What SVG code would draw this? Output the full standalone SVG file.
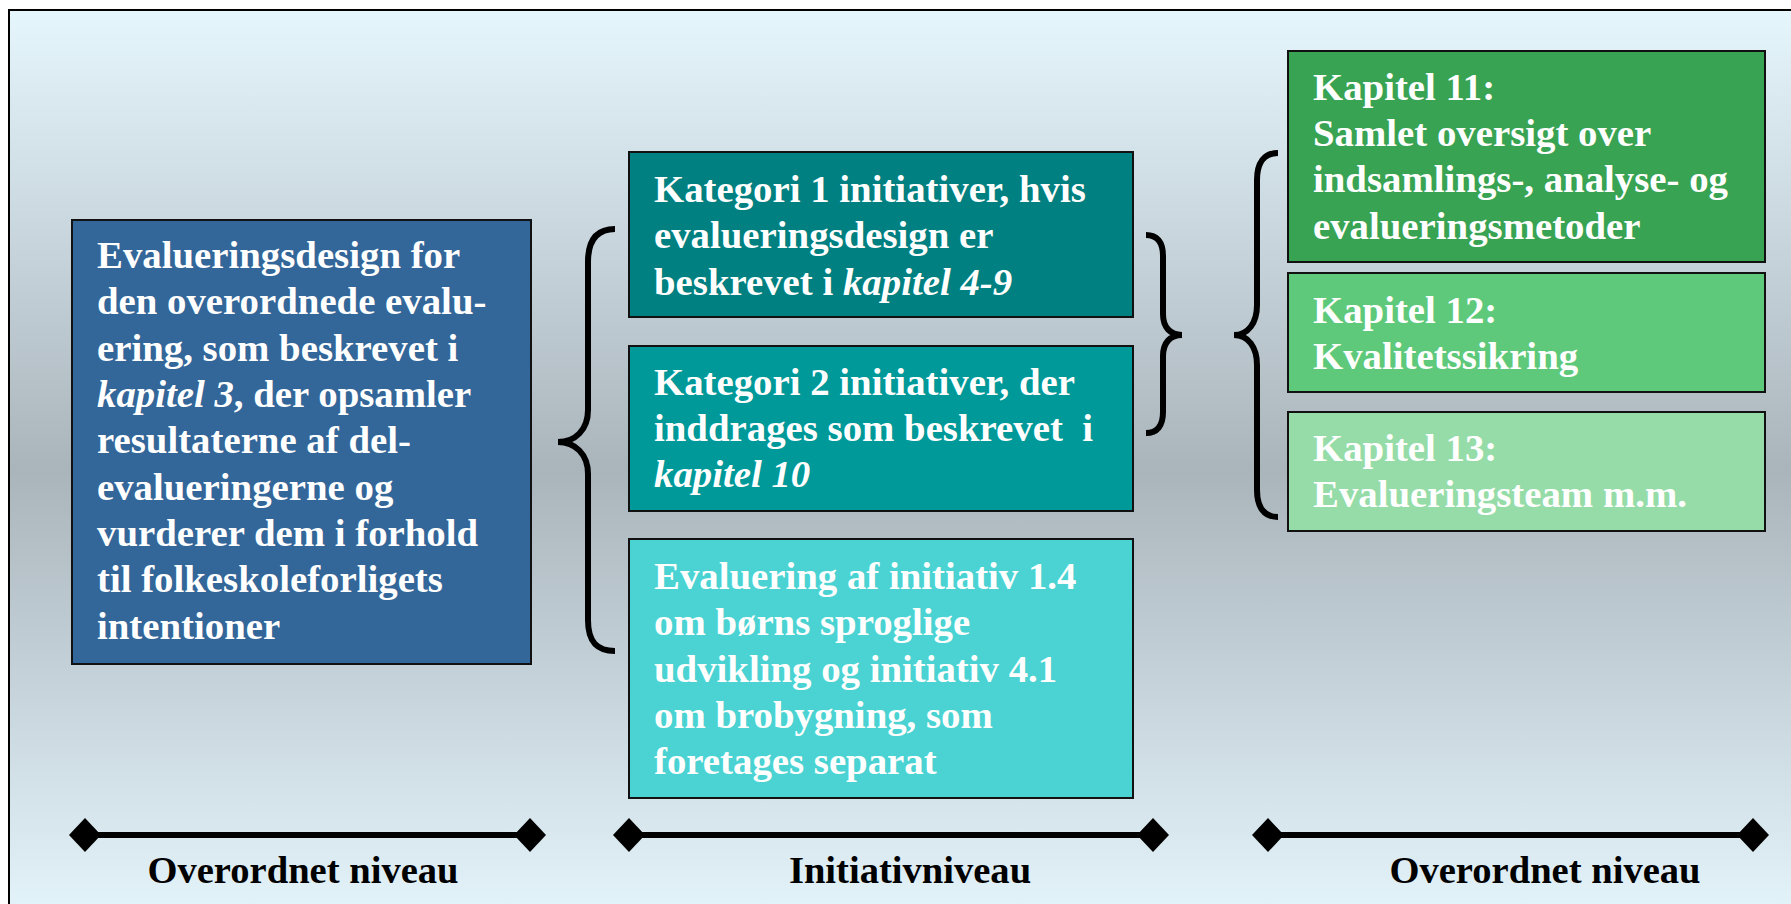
<svg xmlns="http://www.w3.org/2000/svg" width="1791" height="904" viewBox="0 0 1791 904">
<defs>
<linearGradient id="bg" x1="0" y1="0" x2="0" y2="1">
<stop offset="0" stop-color="#e6f6fd"/>
<stop offset="0.5" stop-color="#aab4bb"/>
<stop offset="1" stop-color="#e6f6fd"/>
</linearGradient>
</defs>
<style>
.box{stroke:#111;stroke-width:2}
.t{font-family:"Liberation Serif","Times New Roman",serif;font-weight:bold;font-size:38.8px;fill:#fff}
.lbl{font-family:"Liberation Serif","Times New Roman",serif;font-weight:bold;font-size:38.6px;fill:#000;text-anchor:middle}
.it{font-style:italic}
.brace{fill:none;stroke:#000;stroke-width:6}
.bar{stroke:#000;stroke-width:6}
.dia{fill:#000}
</style>
<rect x="0" y="0" width="1791" height="904" fill="#ffffff"/>
<rect x="9" y="10" width="1800" height="920" fill="url(#bg)" stroke="#000" stroke-width="2"/>

<g id="node-overall">
<rect class="box" x="72" y="220" width="459" height="444" fill="#336699"/>
<text class="t" x="97" y="268">Evalueringsdesign for</text>
<text class="t" x="97" y="314">den overordnede evalu-</text>
<text class="t" x="97" y="361">ering, som beskrevet i</text>
<text class="t" x="97" y="407"><tspan class="it">kapitel 3</tspan>, der opsamler</text>
<text class="t" x="97" y="453">resultaterne af del-</text>
<text class="t" x="97" y="500">evalueringerne og</text>
<text class="t" x="97" y="546">vurderer dem i forhold</text>
<text class="t" x="97" y="592">til folkeskoleforligets</text>
<text class="t" x="97" y="639">intentioner</text>
</g>

<g id="node-kat1">
<rect class="box" x="629" y="152" width="504" height="165" fill="#008080"/>
<text class="t" x="654" y="202">Kategori 1 initiativer, hvis</text>
<text class="t" x="654" y="248">evalueringsdesign er</text>
<text class="t" x="654" y="295">beskrevet i <tspan class="it">kapitel 4-9</tspan></text>
</g>

<g id="node-kat2">
<rect class="box" x="629" y="346" width="504" height="165" fill="#009999"/>
<text class="t" x="654" y="395">Kategori 2 initiativer, der</text>
<text class="t" x="654" y="441" xml:space="preserve">inddrages som beskrevet  i</text>
<text class="t it" x="654" y="487">kapitel 10</text>
</g>

<g id="node-separat">
<rect class="box" x="629" y="539" width="504" height="259" fill="#4ad3d2"/>
<text class="t" x="654" y="589">Evaluering af initiativ 1.4</text>
<text class="t" x="654" y="635">om børns sproglige</text>
<text class="t" x="654" y="682">udvikling og initiativ 4.1</text>
<text class="t" x="654" y="728">om brobygning, som</text>
<text class="t" x="654" y="774">foretages separat</text>
</g>

<g id="node-kap11">
<rect class="box" x="1288" y="51" width="477" height="211" fill="#38a352"/>
<text class="t" x="1313" y="100">Kapitel 11:</text>
<text class="t" x="1313" y="146">Samlet oversigt over</text>
<text class="t" x="1313" y="192">indsamlings-, analyse- og</text>
<text class="t" x="1313" y="239">evalueringsmetoder</text>
</g>

<g id="node-kap12">
<rect class="box" x="1288" y="273" width="477" height="119" fill="#5ec97a"/>
<text class="t" x="1313" y="323">Kapitel 12:</text>
<text class="t" x="1313" y="369">Kvalitetssikring</text>
</g>

<g id="node-kap13">
<rect class="box" x="1288" y="412" width="477" height="119" fill="#96dca8"/>
<text class="t" x="1313" y="461">Kapitel 13:</text>
<text class="t" x="1313" y="507">Evalueringsteam m.m.</text>
</g>

<g id="connectors">
<path class="brace" d="M615,229 C597,229 588,240 588,262 L588,410 C588,430 575,442 558,442 C575,442 588,454 588,474 L588,620 C588,642 597,651 615,651"/>
<path class="brace" d="M1146,235 C1157,235 1163,242 1163,256 L1163,314 C1163,327 1170,335 1182,335 C1170,335 1163,343 1163,356 L1163,412 C1163,426 1157,433 1146,433"/>
<path class="brace" d="M1278,153 C1264,153 1257,163 1257,180 L1257,305 C1257,323 1248,335 1234,335 C1248,335 1257,347 1257,365 L1257,490 C1257,507 1264,517 1278,517"/>

<line class="bar" x1="85" y1="835" x2="530" y2="835"/>
<polygon class="dia" points="69,835 85,818 101,835 85,852"/>
<polygon class="dia" points="514,835 530,818 546,835 530,852"/>

<line class="bar" x1="629" y1="835" x2="1153" y2="835"/>
<polygon class="dia" points="613,835 629,818 645,835 629,852"/>
<polygon class="dia" points="1137,835 1153,818 1169,835 1153,852"/>

<line class="bar" x1="1268" y1="835" x2="1753" y2="835"/>
<polygon class="dia" points="1252,835 1268,818 1284,835 1268,852"/>
<polygon class="dia" points="1737,835 1753,818 1769,835 1753,852"/>
</g>

<g id="labels">
<text class="lbl" x="303" y="883">Overordnet niveau</text>
<text class="lbl" x="910" y="883">Initiativniveau</text>
<text class="lbl" x="1545" y="883">Overordnet niveau</text>
</g>
</svg>
